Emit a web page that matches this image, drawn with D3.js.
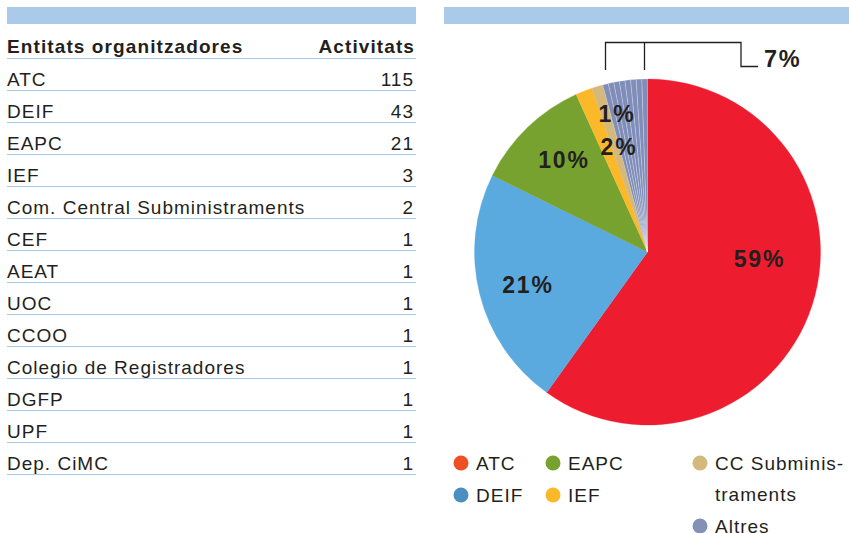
<!DOCTYPE html>
<html>
<head>
<meta charset="utf-8">
<script src="https://cdn.jsdelivr.net/npm/d3@7"></script>
<style>
  body { margin: 0; background: #fff; }
  svg { display: block; font-family: "Liberation Sans", Arial, sans-serif; }
</style>
</head>
<body>
<svg id="chart" width="849" height="533"></svg>
<script>
// table rows (entity, number of activities)
var entities = ["ATC", "DEIF", "EAPC", "IEF", "Com. Central Subministraments", "CEF", "AEAT",
  "UOC", "CCOO", "Colegio de Registradores", "DGFP", "UPF", "Dep. CiMC"];
var activitats = [115, 43, 21, 3, 2, 1, 1, 1, 1, 1, 1, 1, 1];

// pie groups: each entity goes into a group, the last group (Altres) gathers the ones
var groupOf = ["ATC", "DEIF", "EAPC", "IEF", "CC", "Altres", "Altres", "Altres", "Altres",
  "Altres", "Altres", "Altres", "Altres"];
var groups = ["ATC", "DEIF", "EAPC", "IEF", "CC", "Altres"];
var pieColors = ["#ed1c2e", "#5aaae0", "#78a22f", "#fbb829", "#d4b97c", "#7f8db8"];
var legendColors = ["#f04e23", "#4a8fc2", "#78a22f", "#fbb829", "#d4b97c", "#8390b8"];
var legendLabels = [["ATC"], ["DEIF"], ["EAPC"], ["IEF"], ["CC Subminis-", "traments"], ["Altres"]];
var pctLabels = ["59%", "21%", "10%", "2%", "1%", "7%"];

var svg = d3.select("#chart");
var ink = "#231f20";
var band = "#a9cbe9";
var rule = "#a9cbe9";
var fs = 19, ls = 1.0;

// ---------- table ----------
var tLeft = 7, tRight = 416;
svg.append("rect").attr("x", tLeft).attr("y", 7).attr("width", tRight - tLeft).attr("height", 17).attr("fill", band);
svg.append("rect").attr("x", 444).attr("y", 7).attr("width", 405).attr("height", 17).attr("fill", band);

var rowY = d3.scaleLinear().domain([0, 1]).range([58, 90]); // bottom rule of row i (0 = header)

svg.append("text").attr("x", tLeft).attr("y", rowY(0) - 5.5)
  .attr("font-size", fs).attr("letter-spacing", 1.1).attr("font-weight", "bold").attr("fill", ink)
  .text("Entitats organitzadores");
svg.append("text").attr("x", 415).attr("y", rowY(0) - 5.5).attr("text-anchor", "end")
  .attr("font-size", fs).attr("letter-spacing", 1.1).attr("font-weight", "bold").attr("fill", ink)
  .text("Activitats");

var rows = svg.append("g").selectAll("g").data(entities).enter().append("g");
rows.append("text").attr("x", tLeft).attr("y", function (d, i) { return rowY(i + 1) - 4.5; })
  .attr("font-size", fs).attr("letter-spacing", ls).attr("fill", ink).text(function (d) { return d; });
rows.append("text").attr("x", 414).attr("y", function (d, i) { return rowY(i + 1) - 4.5; })
  .attr("text-anchor", "end").attr("font-size", fs).attr("letter-spacing", ls).attr("fill", ink)
  .text(function (d, i) { return activitats[i]; });

svg.append("g").selectAll("line").data(d3.range(entities.length + 1)).enter().append("line")
  .attr("x1", tLeft).attr("x2", tRight)
  .attr("y1", function (i) { return rowY(i) + 0.5; }).attr("y2", function (i) { return rowY(i) + 0.5; })
  .attr("stroke", rule).attr("stroke-width", 1.2);

// ---------- pie ----------
var cx = 647.5, cy = 252, R = 173;
var pieData = entities.map(function (d, i) { return { name: d, value: activitats[i], group: groupOf[i] }; });
var pie = d3.pie().sort(null).value(function (d) { return d.value; });
var arcs = pie(pieData);
var arc = d3.arc().innerRadius(0).outerRadius(R);
var color = d3.scaleOrdinal().domain(groups).range(pieColors);

var pg = svg.append("g").attr("transform", "translate(" + cx + "," + cy + ")");
pg.selectAll("path").data(arcs).enter().append("path")
  .attr("d", arc)
  .attr("fill", function (d) { return color(d.data.group); })
  .attr("stroke", function (d) { return d.data.group == "Altres" ? "#ffffff" : color(d.data.group); })
  .attr("stroke-width", function (d) { return d.data.group == "Altres" ? 0.5 : 0.3; })
  .attr("stroke-opacity", function (d) { return d.data.group == "Altres" ? 0.45 : 1; });

// percentage labels (baseline offsets relative to pie centre)
var labelPos = [[112, 15], [-119.5, 41], [-83.5, -84], [-28.5, -97], [-30.5, -130]];
pg.selectAll("text.pct").data(labelPos).enter().append("text")
  .attr("class", "pct")
  .attr("x", function (d) { return d[0]; }).attr("y", function (d) { return d[1]; })
  .attr("text-anchor", "middle").attr("font-size", 23).attr("letter-spacing", 1.8)
  .attr("font-weight", "bold").attr("fill", ink)
  .text(function (d, i) { return pctLabels[i]; });

// bracket for "Altres"
var bTop = 42.5;
var bx = [cx - 42, cx - 3, cx + 93.5];
svg.append("path")
  .attr("d", "M" + bx[0] + "," + 70 + "V" + bTop + "H" + bx[2] + "V" + 66.5 + "H" + (cx + 110.5)
    + "M" + bx[1] + "," + bTop + "V" + 70)
  .attr("fill", "none").attr("stroke", ink).attr("stroke-width", 1.3);
svg.append("text").attr("x", 764).attr("y", 66.5)
  .attr("font-size", 23.5).attr("letter-spacing", 1.6).attr("font-weight", "bold").attr("fill", ink)
  .text(pctLabels[5]);

// ---------- legend ----------
var legPos = [[461, 463], [461, 495], [553, 463], [553, 495], [700, 463], [700, 526]];
var lg = svg.append("g").selectAll("g").data(groups).enter().append("g")
  .attr("transform", function (d, i) { return "translate(" + legPos[i][0] + "," + legPos[i][1] + ")"; });
lg.append("circle").attr("r", 7.5).attr("fill", function (d, i) { return legendColors[i]; });
lg.append("text").attr("x", 15).attr("y", 6.5).attr("font-size", fs).attr("letter-spacing", ls).attr("fill", ink)
  .selectAll("tspan").data(function (d, i) { return legendLabels[i]; }).enter().append("tspan")
  .attr("x", 15).attr("dy", function (d, j) { return j ? 31.5 : 0; })
  .text(function (d) { return d; });
</script>
</body>
</html>
